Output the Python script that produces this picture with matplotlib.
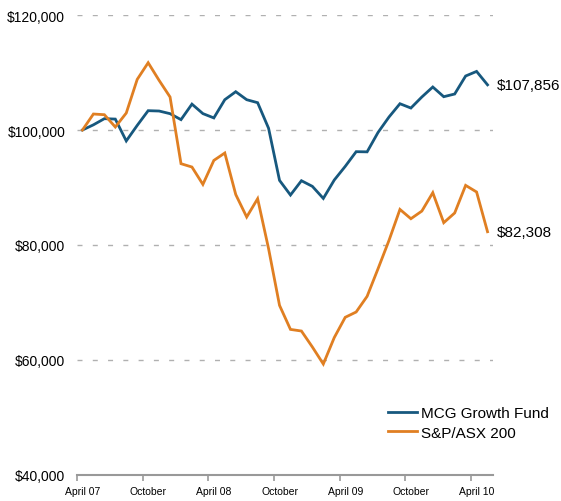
import numpy as np
import matplotlib
matplotlib.use('Agg')
import matplotlib.pyplot as plt

plt.rcParams['font.family'] = ['Liberation Sans', 'DejaVu Sans']

# monthly values, April 2007 .. May 2010
mcg_fund = [100000, 100900, 101970, 101900, 98100, 100800, 103360, 103300, 102840, 101800,
            104500, 102850, 102100, 105270, 106660, 105270, 104750, 100300, 91240, 88690,
            91180, 90200, 88100, 91300, 93670, 96230, 96200, 99580, 102260, 104570,
            103820, 105740, 107480, 105790, 106260, 109390, 110190, 107856]
asx200 = [100000, 102780, 102660, 100520, 102950, 108800, 111700, 108630, 105740, 94140,
          93560, 90540, 94710, 96000, 88780, 84870, 88050, 79360, 69500, 65320,
          65040, 62260, 59300, 63900, 67420, 68350, 71070, 75880, 80800, 86190,
          84570, 85900, 89100, 83880, 85570, 90370, 89220, 82308]
x_labels = ['April 07', 'October', 'April 08', 'October', 'April 09', 'October', 'April 10']
y_ticks = [40000, 60000, 80000, 100000, 120000]

blue = '#17587e'
orange = '#e07f22'

fig = plt.figure(figsize=(5.61, 5.02), dpi=100)
ax = fig.add_axes([77/561, 1 - 476/502, (493 - 77)/561, (476 - 16)/502])

x = np.arange(len(mcg_fund))
ax.plot(x, mcg_fund, color=blue, lw=2, label='MCG Growth Fund', solid_joinstyle='miter')
ax.plot(x, asx200, color=orange, lw=2, label='S&P/ASX 200', solid_joinstyle='miter')

ax.set_xlim(-0.5, len(mcg_fund) - 0.5)
ax.set_ylim(40000, 120000)

# gridlines
for v in y_ticks[1:]:
    ax.axhline(v, color='#b0b0b0', lw=1, linestyle=(0, (3.6, 7.4)), zorder=0)

ax.set_yticks(y_ticks)
ax.set_yticklabels(['${:,}'.format(v) for v in y_ticks], fontsize=10)
ax.tick_params(axis='y', length=0, pad=8.5)

ax.set_xticks(np.arange(0, 37, 6))
ax.set_xticklabels(x_labels, fontsize=7.5)
ax.tick_params(axis='x', which='major', length=0, pad=8)
ax.set_xticks(np.arange(-0.5, 36, 6), minor=True)
ax.tick_params(axis='x', which='minor', length=4, width=1.2, color='#999999')

for s in ['top', 'right', 'left']:
    ax.spines[s].set_visible(False)
ax.spines['bottom'].set_color('#999999')
ax.spines['bottom'].set_linewidth(1.5)

# end labels
ax.text(len(mcg_fund) - 1 + 0.85, mcg_fund[-1], '$107,856', fontsize=11, va='center', ha='left', clip_on=False)
ax.text(len(asx200) - 1 + 0.85, asx200[-1], '$82,308', fontsize=11, va='center', ha='left', clip_on=False)

ax.legend(loc='upper left', bbox_to_anchor=(388/561, 1 - 407/502), bbox_transform=fig.transFigure,
          frameon=False, fontsize=11, handlelength=1.9, handletextpad=0.26, labelspacing=0.38,
          borderaxespad=0, borderpad=0)

fig.savefig('out.png', dpi=100)
plt.close('all')
